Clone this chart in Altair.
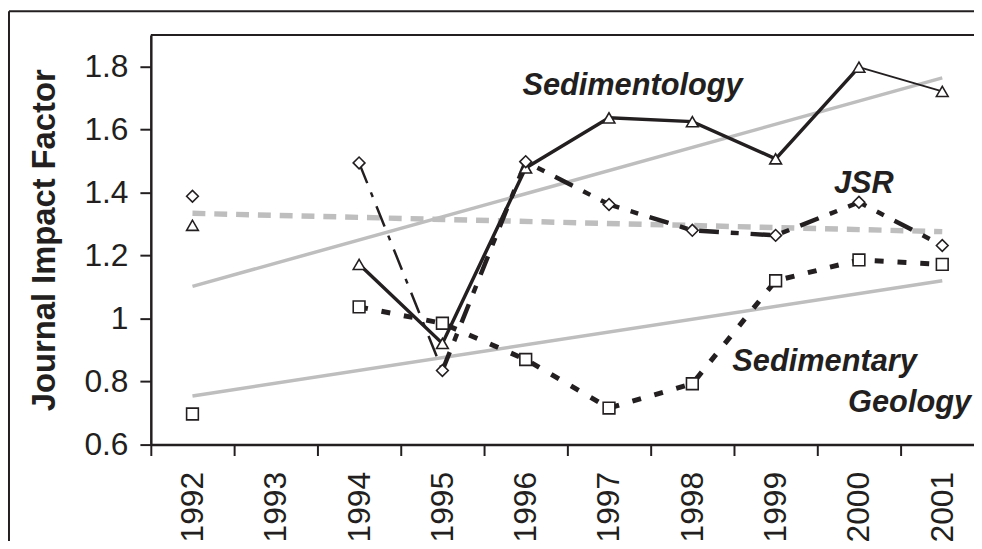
import altair as alt
import pandas as pd

# ---- data ----
years = [1992, 1994, 1995, 1996, 1997, 1998, 1999, 2000, 2001]
sedimentology = [1.296, 1.172, 0.921, 1.478, 1.637, 1.625, 1.507, 1.798, 1.721]
jsr = [1.388, 1.494, 0.835, 1.498, 1.362, 1.280, 1.264, 1.369, 1.232]
sed_geology = [0.697, 1.037, 0.985, 0.870, 0.716, 0.793, 1.120, 1.186, 1.172]
series_names = ["Sedimentology", "JSR", "Sedimentary Geology"]
y_ticks = [0.6, 0.8, 1.0, 1.2, 1.4, 1.6, 1.8]
x_ticks = [1992, 1993, 1994, 1995, 1996, 1997, 1998, 1999, 2000, 2001]

ann_text = ["Sedimentology", "JSR", "Sedimentary", "Geology"]
ann_year = [1995.96, 1999.70, 1998.48, 1999.87]
ann_value = [1.708, 1.399, 0.834, 0.705]

# ---- layout constants ----
W, H = 830, 413
BAND = 84
XMIN = 1991.5
XMAX = XMIN + W / BAND
INK = "#231f20"
GRAY = "#bebebe"
FONT = "Liberation Sans"

values_by_series = {"Sedimentology": sedimentology, "JSR": jsr,
                    "Sedimentary Geology": sed_geology}

points = pd.DataFrame([
    {"year": y, "value": v, "series": s}
    for s in series_names for y, v in zip(years, values_by_series[s])
])

segs = []
def add(series, seg, i0, i1):
    vals = values_by_series[series]
    for i in range(i0, i1 + 1):
        segs.append({"year": years[i], "value": vals[i], "series": series, "seg": seg})

add("Sedimentology", "sed_main", 1, 7)
add("Sedimentology", "sed_tail", 7, 8)
add("JSR", "jsr_thin", 1, 2)
add("JSR", "jsr_main", 2, 8)
add("Sedimentary Geology", "geo_main", 1, 8)
lines = pd.DataFrame(segs)

ann = pd.DataFrame({"text": ann_text, "year": ann_year, "value": ann_value})

xenc = alt.X("year:Q",
             scale=alt.Scale(domain=[XMIN, XMAX], nice=False, zero=False),
             axis=alt.Axis(values=x_ticks, format="d", labelAngle=270,
                           tickOffset=-BAND / 2, labelOffset=BAND / 2,
                           tickSize=11, tickWidth=2, tickColor=INK,
                           domainColor=INK, domainWidth=2.5,
                           labelFont=FONT, labelFontSize=32, labelColor=INK,
                           labelPadding=16, grid=False, title=None,
                           labelFlush=False, labelOverlap=False))
yenc = alt.Y("value:Q",
             scale=alt.Scale(domain=[0.6, 1.9], nice=False, zero=False),
             axis=alt.Axis(values=y_ticks, format="~g", tickSize=11, tickWidth=2,
                           tickColor=INK, domainColor=INK, domainWidth=2.5,
                           labelFont=FONT, labelFontSize=32, labelColor=INK,
                           labelPadding=12, grid=False,
                           title="Journal Impact Factor", titleFont=FONT,
                           titleFontSize=33, titleFontWeight="bold",
                           titleColor=INK, titlePadding=23,
                           labelFlush=False, labelOverlap=False))

def seg_line(seg, width, dash=None):
    kw = dict(color=INK, strokeWidth=width)
    if dash:
        kw["strokeDash"] = dash
    return (alt.Chart(lines).transform_filter(alt.datum.seg == seg)
            .mark_line(**kw).encode(x=xenc, y=yenc))

sed_main = seg_line("sed_main", 3.5)
sed_tail = seg_line("sed_tail", 1.6)
jsr_thin = seg_line("jsr_thin", 2.5, [22, 10, 5, 10])
jsr_main = seg_line("jsr_main", 4.5, [20, 12, 8, 12])
geo_main = seg_line("geo_main", 5, [9, 14])

trend_solid = (alt.Chart(points)
               .transform_filter(alt.datum.series != "JSR")
               .transform_regression("year", "value", groupby=["series"], extent=[1992, 2001])
               .mark_line(color=GRAY, strokeWidth=3.5)
               .encode(x=xenc, y=yenc, detail="series:N"))
trend_dash = (alt.Chart(points)
              .transform_filter(alt.datum.series == "JSR")
              .transform_regression("year", "value", extent=[1992, 2001])
              .mark_line(color=GRAY, strokeWidth=5.5, strokeDash=[13, 9])
              .encode(x=xenc, y=yenc))

markers = (alt.Chart(points)
           .mark_point(filled=True, fill="white", stroke=INK, strokeWidth=1.6,
                       size=140, opacity=1)
           .encode(x=xenc, y=yenc,
                   shape=alt.Shape("series:N",
                                   scale=alt.Scale(domain=series_names,
                                                   range=["triangle-up", "diamond", "square"]),
                                   legend=None)))

labels = (alt.Chart(ann)
          .mark_text(font=FONT, fontSize=31, fontWeight="bold", fontStyle="italic",
                     color=INK, align="left", baseline="alphabetic")
          .encode(x=xenc, y=yenc, text="text:N"))

one = pd.DataFrame({"a": [0]})
frame_top = alt.Chart(one).mark_rule(color=INK, strokeWidth=2).encode(
    x=alt.value(0), x2=alt.value(W), y=alt.value(0))
outer_top = alt.Chart(one).mark_rule(color=INK, strokeWidth=2).encode(
    x=alt.value(-143), x2=alt.value(W), y=alt.value(-24))
outer_left = alt.Chart(one).mark_rule(color=INK, strokeWidth=2).encode(
    x=alt.value(-143), y=alt.value(-24), y2=alt.value(H + 100))

chart = alt.layer(
    trend_solid, trend_dash,
    geo_main, jsr_thin, jsr_main, sed_main, sed_tail,
    markers, labels, frame_top, outer_top, outer_left
).properties(
    width=W, height=H,
    padding={"left": 144, "top": 25, "right": 0, "bottom": 95},
    autosize=alt.AutoSizeParams(type="none"),
    background="white"
).configure_view(stroke=None)

chart.save("out.html", embed_options={"renderer": "svg", "actions": False})
